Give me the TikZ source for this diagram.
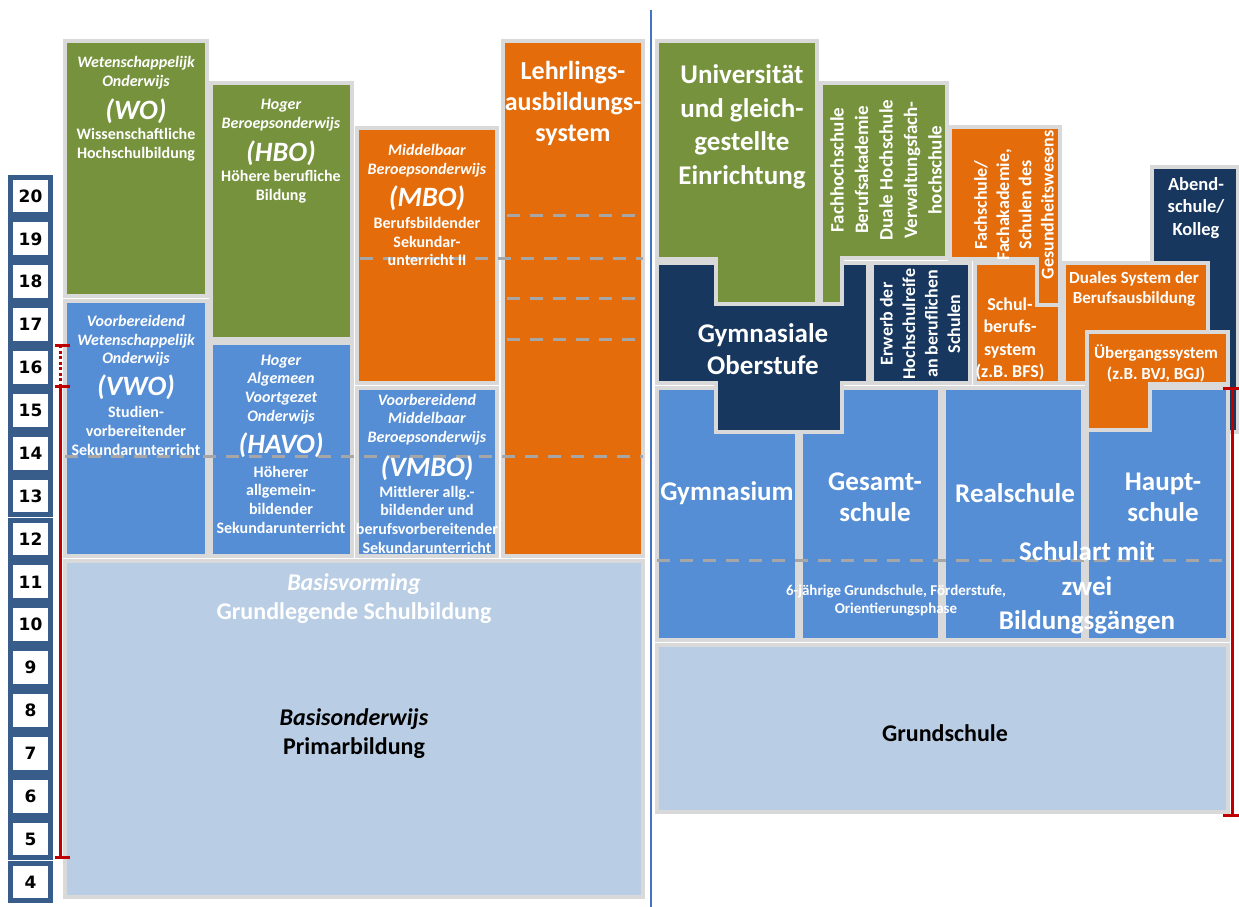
\documentclass[tikz,border=0pt]{standalone}
\usepackage{fontspec}
\setmainfont{Carlito}
\newfontfamily\numfont{DejaVu Sans}
\newcommand{\fsz}[2]{\fontsize{#1}{#2}\selectfont}
\definecolor{cgreen}{HTML}{76923C}
\definecolor{cblue}{HTML}{558ED5}
\definecolor{corange}{HTML}{E46C0A}
\definecolor{cnavy}{HTML}{17375E}
\definecolor{clight}{HTML}{B9CDE5}
\definecolor{bordergray}{HTML}{D9D9D9}
\definecolor{dashgray}{HTML}{A6A6A6}
\definecolor{cred}{HTML}{C00000}
\definecolor{sepblue}{HTML}{4472C4}
\definecolor{numblue}{HTML}{385D8A}
\begin{document}
\begin{tikzpicture}[x=1pt,y=-1pt,
  bx/.style={draw=bordergray, line width=3.5pt},
  grn/.style={bx, fill=cgreen},
  blu/.style={bx, fill=cblue},
  org/.style={bx, fill=corange},
  nav/.style={bx, fill=cnavy},
  lgt/.style={bx, fill=clight},
  dsh/.style={draw=dashgray, line width=3pt, dash pattern=on 13pt off 10pt},
  nl/.style={text=white, font=\fsz{16}{18.7}\bfseries\itshape, align=center, inner sep=0pt},
  de/.style={text=white, font=\fsz{16}{18.7}\bfseries, align=center, inner sep=0pt},
  ab/.style={text=white, font=\fsz{28}{30}\bfseries\itshape, inner sep=0pt},
  big/.style={text=white, font=\fsz{27}{33.5}\bfseries, align=center, inner sep=0pt},
  mid/.style={text=white, font=\fsz{18}{22.4}\bfseries, align=center, inner sep=0pt},
  numbox/.style={draw=numblue, line width=5pt, fill=white, minimum width=40pt, minimum height=37.8pt, inner sep=0pt, font=\numfont\bfseries\fsz{17}{20}},
  brk/.style={draw=cred, line width=3pt}
]
\useasboundingbox (0,0) rectangle (1239,907);
\fill[white] (0,0) rectangle (1239,907);

% separator
\draw[sepblue, line width=2pt] (651,10) -- (651,907);

% number column
\foreach \n in {4,...,20} {
  \pgfmathsetmacro\cy{196+(20-\n)*42.87}
  \node[numbox] (n\n) at (30.5,\cy) {\n};
}

% ---------------- left side ----------------
\path[grn] (65,41) rectangle (207,296);
\path[blu] (65,301) rectangle (207,556);
\path[grn] (211,83) rectangle (352,339);
\path[blu] (211,343) rectangle (352,556);
\path[org] (357,128) rectangle (497,383);
\path[blu] (357,388) rectangle (497,556);
\path[org] (503,41) rectangle (643,556);
\path[lgt] (65,561) rectangle (643,897);

\draw[dsh] (65,456) -- (643,456);
\draw[dsh] (360,258) -- (643,258);
\draw[dsh] (507,215) -- (640,215);
\draw[dsh] (507,298) -- (640,298);
\draw[dsh] (507,339) -- (640,339);

% WO
\node[nl] (wo1) at (136,73) {Wetenschappelijk\\Onderwijs};
\node[ab] (wo2) at (136,111) {(WO)};
\node[de] (wo3) at (136,145) {Wissenschaftliche\\Hochschulbildung};
% HBO
\node[nl] (hbo1) at (281,115.5) {Hoger\\Beroepsonderwijs};
\node[ab] (hbo2) at (281,153) {(HBO)};
\node[de] (hbo3) at (281,186.5) {Höhere berufliche\\Bildung};
% MBO
\node[nl] (mbo1) at (427,161) {Middelbaar\\Beroepsonderwijs};
\node[ab] (mbo2) at (427,198) {(MBO)};
\node[de] (mbo3) at (427,241.5) {Berufsbildender\\Sekundar-\\unterricht II};
% Lehrlings
\node[text=white, font=\fsz{26}{31}\bfseries, align=center, inner sep=0pt] (lehr) at (573,103) {Lehrlings-\\ausbildungs-\\system};
% VWO
\node[nl] (vwo1) at (136,341) {Voorbereidend\\Wetenschappelijk\\Onderwijs};
\node[ab] (vwo2) at (136,387) {(VWO)};
\node[de] (vwo3) at (136,431) {Studien-\\vorbereitender\\Sekundarunterricht};
% HAVO
\node[nl] (havo1) at (281,389.5) {Hoger\\Algemeen\\Voortgezet\\Onderwijs};
\node[ab] (havo2) at (281,445) {(HAVO)};
\node[de] (havo3) at (281,499.5) {Höherer\\allgemein-\\bildender\\Sekundarunterricht};
% VMBO
\node[nl] (vmbo1) at (427,419.5) {Voorbereidend\\Middelbaar\\Beroepsonderwijs};
\node[ab] (vmbo2) at (427,468) {(VMBO)};
\node[de] (vmbo3) at (427,519.5) {Mittlerer allg.-\\bildender und\\berufsvorbereitender\\Sekundarunterricht};
% Basis
\node[text=white, font=\fsz{24}{29}\bfseries\itshape, inner sep=0pt] (bv1) at (354,584) {Basisvorming};
\node[text=white, font=\fsz{24}{29}\bfseries, inner sep=0pt] (bv2) at (354,613) {Grundlegende Schulbildung};
\node[text=black, font=\fsz{24}{29}\bfseries\itshape, inner sep=0pt] (bo1) at (354,719) {Basisonderwijs};
\node[text=black, font=\fsz{24}{29}\bfseries, inner sep=0pt] (bo2) at (354,748) {Primarbildung};

% ---------------- right side ----------------
\path[nav] (1152,167) rectangle (1238,432);
\path[blu] (657,388) rectangle (797,640);
\path[blu] (801,388) rectangle (940,640);
\path[blu] (944,388) rectangle (1083,640);
\path[blu] (1087,388) rectangle (1228,640);
\path[lgt] (657,645) rectangle (1228,812);
\path[nav] (657,263) -- (868,263) -- (868,383) -- (842,383) -- (842,432) -- (716,432) -- (716,383) -- (657,383) -- cycle;
\path[grn] (657,41) -- (817,41) -- (817,304) -- (716,304) -- (716,259) -- (657,259) -- cycle;
\path[grn] (821,83) -- (947,83) -- (947,258) -- (842,258) -- (842,304) -- (821,304) -- cycle;
\path[nav] (872,263) rectangle (970,383);
\path[org] (975,263) rectangle (1060,383);
\path[org] (950,127) -- (1060,127) -- (1060,305) -- (1037,305) -- (1037,259) -- (950,259) -- cycle;
\path[org] (1064,263) rectangle (1208,383);
\path[org] (1087,332) -- (1228,332) -- (1228,384) -- (1150,384) -- (1150,430) -- (1087,430) -- cycle;

\draw[dsh] (657,560) -- (1228,560);

\node[big] (uni) at (742,127) {Universität\\und gleich-\\gestellte\\Einrichtung};
\node[text=white, font=\fsz{19}{24.5}\bfseries, align=center, inner sep=0pt, rotate=90] (fh) at (886,170) {Fachhochschule\\Berufsakademie\\Duale Hochschule\\Verwaltungsfach-\\hochschule};
\node[text=white, font=\fsz{27}{32}\bfseries, align=center, inner sep=0pt] (gos) at (763,349) {Gymnasiale\\Oberstufe};
\node[text=white, font=\fsz{18}{22.5}\bfseries, align=center, inner sep=0pt, rotate=90] (erw) at (920,324) {Erwerb der\\Hochschulreife\\an beruflichen\\Schulen};
\node[text=white, font=\fsz{18}{22.3}\bfseries, align=center, inner sep=0pt, rotate=90] (fs) at (1014,205) {Fachschule/\\Fachakademie,\\Schulen des\\Gesundheitswesens};
\node[mid] (sbs) at (1010,339) {Schul-\\berufs-\\system\\(z.B. BFS)};
\node[text=white, font=\fsz{17}{20.5}\bfseries, align=center, inner sep=0pt] (dual) at (1134,289) {Duales System der\\Berufsausbildung};
\node[text=white, font=\fsz{17}{21}\bfseries, align=center, inner sep=0pt] (ueb) at (1156,363) {Übergangssystem\\(z.B. BVJ, BGJ)};
\node[text=white, font=\fsz{18.5}{22.5}\bfseries, align=center, inner sep=0pt] (abend) at (1196,208) {Abend-\\schule/\\Kolleg};

\node[big] (gym) at (727,493) {Gymnasium};
\node[big, font=\fsz{27}{31}\bfseries] (ges) at (875,497) {Gesamt-\\schule};
\node[big] (real) at (1015,493) {Realschule};
\node[big, font=\fsz{27}{31}\bfseries] (haupt) at (1163,497) {Haupt-\\schule};
\node[text=white, font=\fsz{15}{18}\bfseries, align=center, inner sep=0pt] (sechs) at (896,601) {6-jährige Grundschule, Förderstufe,\\Orientierungsphase};
\node[big, font=\fsz{27}{34.5}\bfseries] (schulart) at (1087,588) {Schulart mit\\zwei\\Bildungsgängen};
\node[text=black, font=\fsz{24}{29}\bfseries, inner sep=0pt] (grund) at (945,733) {Grundschule};

% red brackets (drawn last, on top)
\draw[brk] (60,386) -- (60,857);
\draw[brk] (55,386) -- (70,386);
\draw[brk] (55,857) -- (70,857);
\draw[cred, line width=3pt, dash pattern=on 3pt off 2.5pt] (60,345) -- (60,386);
\draw[brk] (55,345) -- (70,345);
\draw[brk] (1232,388) -- (1232,815);
\draw[brk] (1223,388) -- (1239,388);
\draw[brk] (1223,815) -- (1239,815);
\end{tikzpicture}
\end{document}
